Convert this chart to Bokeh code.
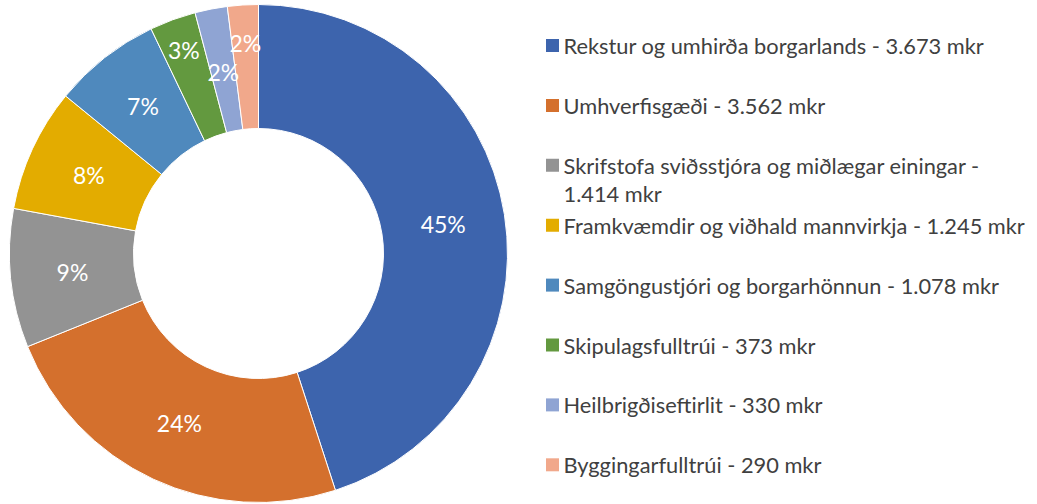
import math
import textwrap
from bokeh.plotting import figure
from bokeh.models import Range1d, ColumnDataSource
from bokeh.core.properties import value
from bokeh.embed import file_html
from bokeh.resources import INLINE

# ---- data ----
categories = [
    "Rekstur og umhirða borgarlands",
    "Umhverfisgæði",
    "Skrifstofa sviðsstjóra og miðlægar einingar",
    "Framkvæmdir og viðhald mannvirkja",
    "Samgöngustjóri og borgarhönnun",
    "Skipulagsfulltrúi",
    "Heilbrigðiseftirlit",
    "Byggingarfulltrúi",
]
amounts_mkr = [3673, 3562, 1414, 1245, 1078, 373, 330, 290]
shares_pct = [45.0, 23.9, 9.0, 8.0, 7.0, 3.0, 2.1, 2.0]

# ---- style ----
colors = ["#3D64AD", "#D4702D", "#939393", "#E3AC00", "#4F89BD",
          "#63993F", "#8FA4D3", "#F1A88B"]
label_ring_pos = [0.5, 0.5, 0.5, 0.5, 0.5, 0.74, 0.48, 0.69]
FONT = "Lato"
W, H = 1037, 504
CX, CY = 258, H - 253
R_OUT, R_IN = 249, 125

p = figure(width=W, height=H, x_range=Range1d(0, W), y_range=Range1d(0, H),
           output_backend="svg", toolbar_location=None, min_border=0,
           x_axis_location=None, y_axis_location=None)
p.grid.visible = False
p.outline_line_color = None
p.background_fill_color = "white"
p.border_fill_color = "white"

total = sum(shares_pct)
starts, ends, lx, ly, labels = [], [], [], [], []
cum = 0.0
for i, s in enumerate(shares_pct):
    a0 = math.pi / 2 - 2 * math.pi * cum / total
    cum += s
    a1 = math.pi / 2 - 2 * math.pi * cum / total
    starts.append(a0)
    ends.append(a1)
    mid = (a0 + a1) / 2
    r = R_IN + (R_OUT - R_IN) * label_ring_pos[i]
    lx.append(CX + r * math.cos(mid))
    ly.append(CY + r * math.sin(mid))
    labels.append(f"{round(s / total * 100)}%")

src = ColumnDataSource(dict(start=starts, end=ends, color=colors))
p.annular_wedge(x=CX, y=CY, inner_radius=R_IN, outer_radius=R_OUT,
                start_angle="start", end_angle="end", direction="clock",
                fill_color="color", line_color="white", line_width=1,
                source=src)

p.text(x=lx, y=ly, text=labels, text_color="white",
       text_font=value(FONT), text_font_size="23px",
       text_align="center", text_baseline="middle")

# ---- legend ----
MX, TX = 552, 563
ROW0, ROW_STEP, LINE_STEP = H - 45, 59.9, 28
mx, my, tx, ty, tt = [], [], [], [], []
for i, (cat, amt) in enumerate(zip(categories, amounts_mkr)):
    y = ROW0 - ROW_STEP * i
    mx.append(MX)
    my.append(y)
    amt_s = f"{amt:,}".replace(",", ".")
    lines = textwrap.wrap(f"{cat} - {amt_s} mkr", width=50)
    for j, ln in enumerate(lines):
        tx.append(TX)
        ty.append(y - LINE_STEP * j)
        tt.append(ln)

p.rect(x=mx, y=my, width=13, height=13, fill_color=colors, line_color=None)
p.text(x=tx, y=ty, text=tt, text_color="#404040", text_font=value(FONT),
       text_font_size="21.8px", text_align="left", text_baseline="middle")

open("out.html", "w").write(file_html(p, INLINE))
